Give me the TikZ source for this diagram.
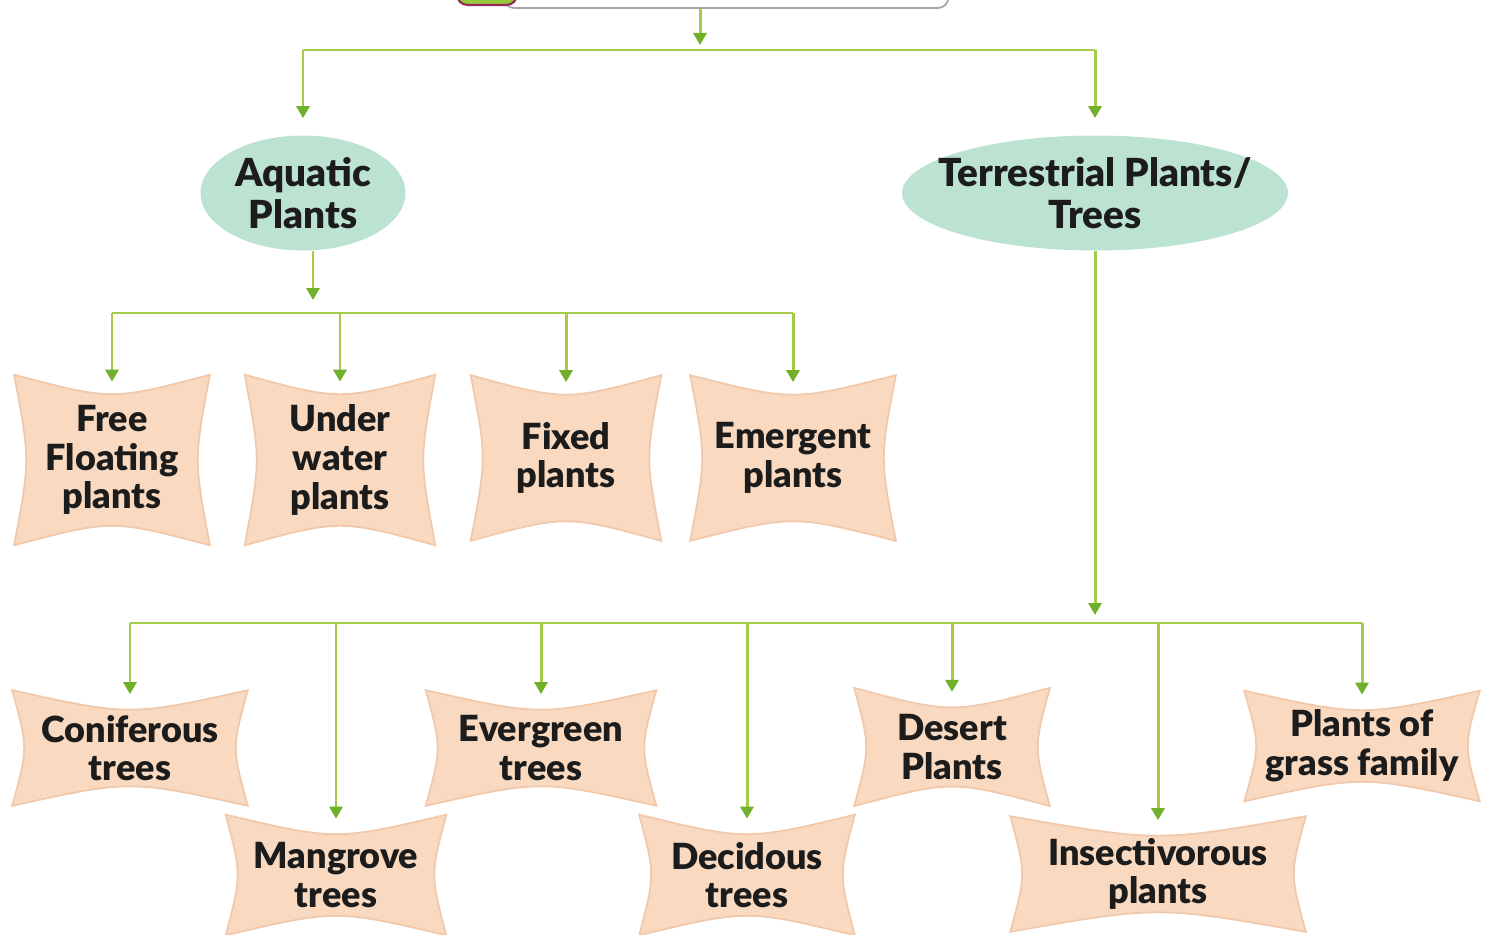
\documentclass[tikz,border=0pt]{standalone}
\usepackage{fontspec}
\setmainfont{Lato}[BoldFont={Lato Black}]
\usepackage{tikz}
\usetikzlibrary{shapes.geometric, arrows.meta, positioning, backgrounds, calc}
\definecolor{linkgreen}{RGB}{165,203,75}
\definecolor{tipgreen}{RGB}{112,176,42}
\definecolor{aquateal}{RGB}{188,226,210}
\definecolor{bannerpeach}{RGB}{249,218,193}
\definecolor{banneredge}{RGB}{242,200,170}
\definecolor{inkgray}{RGB}{28,28,28}
\definecolor{boxgray}{RGB}{165,165,165}
\definecolor{badgegreen}{RGB}{150,200,60}
\definecolor{badgeplum}{RGB}{150,40,90}

\begin{document}
\begin{tikzpicture}[x=0.02cm, y=-0.02cm,
    grp/.style={ellipse, fill=aquateal, inner sep=0pt, align=center,
        font=\fontsize{22}{23.5}\selectfont\bfseries, text=inkgray},
    leaf/.style={inner sep=0pt, align=center,
        font=\fontsize{20.5}{22}\selectfont\bfseries, text=inkgray},
    link/.style={draw=linkgreen, line width=1.7pt},
    arr/.style={link, -{Triangle[length=0.24cm, width=0.26cm, color=tipgreen]}},
    bannerline/.style={fill=bannerpeach, draw=banneredge, line width=1pt}]
    \useasboundingbox (0,0) rectangle (1487,935);
    \clip (0,0) rectangle (1487,935);

    % top box, cut off by the page edge
    \node[draw=boxgray, line width=1pt, rounded corners=6pt, fill=white,
        minimum width=8.9cm, minimum height=1.2cm] (topic) at (726,-22) {};
    \node[draw=badgeplum, line width=1.2pt, fill=badgegreen, rounded corners=6pt,
        minimum width=1.2cm, minimum height=1.2cm] (badge) at (487,-25) {};

    % groups
    \node[grp, minimum width=4.1cm, minimum height=2.3cm] (aq) at (303,193) {Aquatic\\Plants};
    \node[grp, inner xsep=-0.4cm, minimum width=7.7cm, minimum height=2.3cm] (terr) at (1095,193) {Terrestrial Plants/\\Trees};

    % aquatic kinds
    \node[leaf, minimum width=3.9cm, minimum height=3.4cm] (free) at (112,460) {Free\\Floating\\plants};
    \node[leaf, minimum width=3.8cm, minimum height=3.4cm] (under) at (340,460) {Under\\water\\plants};
    \node[leaf, minimum width=3.8cm, minimum height=3.3cm] (fixed) at (566,458) {Fixed\\plants};
    \node[leaf, minimum width=4.1cm, minimum height=3.3cm] (emergent) at (793,458) {Emergent\\plants};

    % terrestrial kinds
    \node[leaf, minimum width=4.7cm, minimum height=2.3cm] (conif) at (130,748) {Coniferous\\trees};
    \node[leaf, minimum width=4.4cm, minimum height=2.4cm] (mangrove) at (336,875) {Mangrove\\trees};
    \node[leaf, minimum width=4.6cm, minimum height=2.3cm] (evergreen) at (541,748) {Evergreen\\trees};
    \node[leaf, minimum width=4.3cm, minimum height=2.4cm] (decid) at (747,875) {Decidous\\trees};
    \node[leaf, minimum width=3.9cm, minimum height=2.35cm] (desert) at (952,747) {Desert\\Plants};
    \node[leaf, minimum width=5.9cm, minimum height=2.3cm] (insect) at (1158,874) {Insectivorous\\plants};
    \node[leaf, minimum width=4.7cm, minimum height=2.2cm] (grass) at (1362,746) {Plants of\\grass family};

    % banner shapes behind the kinds
    \begin{scope}[on background layer]
        \foreach \n in {free,under,fixed,emergent,conif,mangrove,evergreen,decid,desert,insect,grass}
            \draw[bannerline] (\n.north west) .. controls ($(\n.north)+(0,26)$) .. (\n.north east)
                .. controls ($(\n.east)+(-16,0)$) .. (\n.south east)
                .. controls ($(\n.south)+(0,-26)$) .. (\n.south west)
                .. controls ($(\n.west)+(16,0)$) .. (\n.north west) -- cycle;
    \end{scope}

    % connectors
    \coordinate (topsplit) at (700,50);
    \draw[arr, shorten >=0.1cm] (topsplit |- topic.south) -- (topsplit);
    \draw[link] (aq.north |- topsplit) -- (terr.north |- topsplit);
    \draw[arr, shorten >=0.34cm] (aq.north |- topsplit) -- (aq.north);
    \draw[arr, shorten >=0.34cm] (terr.north |- topsplit) -- (terr.north);

    \coordinate (aqsplit) at (313,313);
    \draw[arr, shorten >=0.26cm] (aq.south -| aqsplit) -- (aqsplit);
    \draw[link] (free.north |- aqsplit) -- (emergent.north |- aqsplit);
    \foreach \n in {free,under,fixed,emergent}
        \draw[arr] (\n.north |- aqsplit) -- ($(\n.north)+(0,7)$);

    \coordinate (terrsplit) at (1095,623);
    \draw[arr, shorten >=0.16cm] (terr.south) -- (terrsplit);
    \draw[link] (conif.north |- terrsplit) -- (grass.north |- terrsplit);
    \foreach \n in {conif,mangrove,evergreen,decid,desert,insect,grass}
        \draw[arr] (\n.north |- terrsplit) -- ($(\n.north)+(0,4)$);
\end{tikzpicture}
\end{document}
